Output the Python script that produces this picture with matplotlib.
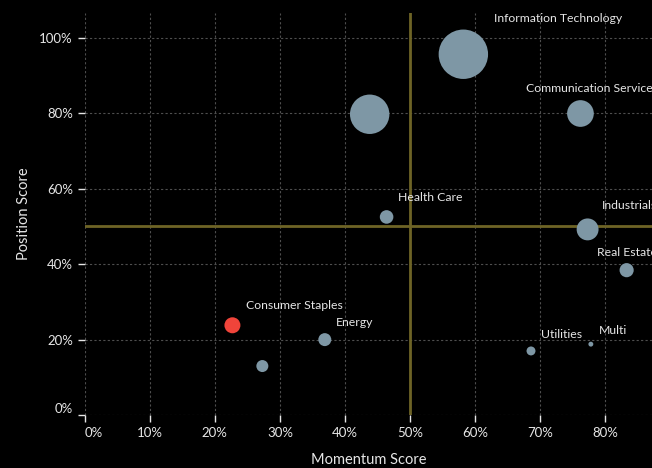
import matplotlib.pyplot as plt
from matplotlib.ticker import PercentFormatter

# Sector data
sectors = ["Information Technology", "", "Communication Services", "Health Care",
           "Industrials", "Real Estate", "Consumer Staples", "", "Energy",
           "Utilities", "Multi"]
momentum = [0.582, 0.438, 0.762, 0.464, 0.773, 0.833, 0.227, 0.273, 0.369, 0.686, 0.778]
position = [0.956, 0.797, 0.799, 0.525, 0.492, 0.384, 0.238, 0.130, 0.200, 0.170, 0.188]
weight = [30.5, 19.4, 8.9, 2.3, 6.0, 2.5, 3.2, 1.8, 2.1, 1.0, 0.3]
highlight = "Consumer Staples"

# label offsets in points (left edge, vertical centre)
label_dx = [22, 0, -39, 8, 10, -21, 10, 0, 8, 7, 5.5]
label_dy = [26, 0, 18, 14, 17, 13, 14, 0, 12, 11.5, 10]

xticks = [0, 0.1, 0.2, 0.3, 0.4, 0.5, 0.6, 0.7, 0.8]
yticks = [0, 0.2, 0.4, 0.6, 0.8, 1.0]

bg = "#000000"
bubble = "#7e97a5"
red = "#f0443a"
ref = "#6e6426"
txt = "#e6e6e6"

plt.rcParams["font.family"] = ["Lato", "DejaVu Sans"]

fig = plt.figure(figsize=(6.52, 4.68), dpi=100, facecolor=bg)
ax = fig.add_axes([0.130, 0.113, 0.870, 0.859], facecolor=bg)

colors = [red if s == highlight else bubble for s in sectors]
ax.scatter(momentum, position, s=[w * 41.5 for w in weight], c=colors,
           edgecolors="none", zorder=3)

ax.axvline(0.5, color=ref, lw=2, zorder=2)
ax.axhline(0.5, color=ref, lw=2, zorder=2)

for name, x, y, dx, dy in zip(sectors, momentum, position, label_dx, label_dy):
    if name:
        ax.annotate(name, (x, y), xytext=(dx, dy), textcoords="offset points",
                    ha="left", va="center", color=txt, fontsize=8.8, zorder=4)

ax.set_xlim(0, 0.872)
ax.set_ylim(0, 1.065)
ax.set_xticks(xticks)
ax.set_yticks(yticks)
ax.xaxis.set_major_formatter(PercentFormatter(1.0, decimals=0))
ax.yaxis.set_major_formatter(PercentFormatter(1.0, decimals=0))
ax.grid(True, color="#4e4e4e", ls=(0, (2, 2)), lw=0.8, zorder=1)
for s in ax.spines.values():
    s.set_visible(False)
ax.tick_params(colors=txt, labelsize=9.5, length=5, width=1)
ax.get_xticklabels()[0].set_ha("left")
ax.get_yticklabels()[0].set_va("bottom")

ax.set_xlabel("Momentum Score", color=txt, fontsize=10.5, labelpad=10)
ax.set_ylabel("Position Score", color=txt, fontsize=10.5, labelpad=6)

fig.savefig("out.png", dpi=100, facecolor=bg)
